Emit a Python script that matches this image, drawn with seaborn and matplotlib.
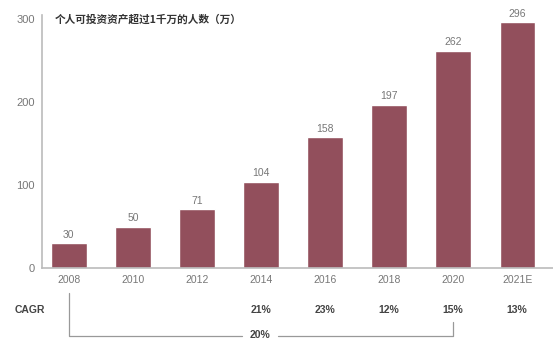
import matplotlib
matplotlib.use("Agg")
import matplotlib.pyplot as plt
import seaborn as sns
import pandas as pd
from matplotlib.transforms import blended_transform_factory

years = ["2008", "2010", "2012", "2014", "2016", "2018", "2020", "2021E"]
people = [30, 50, 71, 104, 158, 197, 262, 296]
cagr_years = ["2014", "2016", "2018", "2020", "2021E"]
cagr_values = ["21%", "23%", "12%", "15%", "13%"]
overall_cagr = "20%"
overall_span = ("2008", "2020")
title = "个人可投资资产超过1千万的人数（万）"
yticks = [0, 100, 200, 300]

sns.set_theme(style="white")
plt.rcParams["font.family"] = ["Liberation Sans", "DejaVu Sans"]

bar_color = "#924F5C"
gray = "#777777"
dark = "#444444"

df = pd.DataFrame({"year": years, "people": people})

fig = plt.figure(figsize=(5.53, 3.42), dpi=100)
W, H = 553, 342
ax = fig.add_axes([42 / W, (H - 268) / H, (W - 42) / W, (268 - 15) / H])

sns.barplot(data=df, x="year", y="people", color=bar_color, width=0.55,
            saturation=1, ax=ax)

ax.set_xlim(-0.42, 7.56)
ax.set_ylim(0, 305)
ax.set_yticks(yticks)
ax.set_xlabel("")
ax.set_ylabel("")

for s in ["top", "right"]:
    ax.spines[s].set_visible(False)
for s in ["left", "bottom"]:
    ax.spines[s].set_color("#bbbbbb")
    ax.spines[s].set_linewidth(1.2)

ax.tick_params(axis="y", length=3, color="#bbbbbb", labelsize=8,
               labelcolor=gray, pad=2)
ax.tick_params(axis="x", length=0, labelsize=7.5, labelcolor=gray, pad=5)

# value labels above bars
for i, v in enumerate(people):
    ax.text(i, v + 4, str(v), ha="center", va="bottom", fontsize=7.5,
            color=gray)

ax.text(-0.22, 300, title, ha="left", va="center", fontsize=7.7,
        fontweight="bold", color="#333333",
        family=["Noto Sans CJK SC", "DejaVu Sans"])

# CAGR row below the axis
fig_y = lambda py: 1 - py / H
btrans = blended_transform_factory(ax.transData, fig.transFigure)

fig.text(30 / W, fig_y(310), "CAGR", ha="center", va="center",
         fontsize=7.5, fontweight="bold", color=dark)
for y, c in zip(cagr_years, cagr_values):
    ax.text(years.index(y), fig_y(310), c, transform=btrans, ha="center",
            va="center", fontsize=7.5, fontweight="bold", color=dark)

# bracket for overall CAGR
x0 = years.index(overall_span[0])
x1 = years.index(overall_span[1])
xm = (x0 + x1) / 2
line_kw = dict(color="#999999", lw=0.9, transform=btrans, clip_on=False)
ax.plot([x0, x0, xm - 0.3], [fig_y(293), fig_y(336), fig_y(336)], **line_kw)
ax.plot([xm + 0.27, x1, x1], [fig_y(336), fig_y(336), fig_y(322)], **line_kw)
ax.text(xm - 0.02, fig_y(335), overall_cagr, transform=btrans, ha="center",
        va="center", fontsize=7.5, fontweight="bold", color=dark)

fig.savefig("out.png", dpi=100)
